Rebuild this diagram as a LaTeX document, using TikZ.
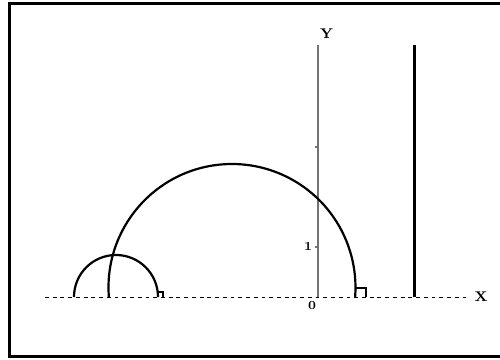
\documentclass[tikz,border=0pt]{standalone}
\usetikzlibrary{calc}
\tikzset{
  framebox/.style={draw=black, line width=2pt},
  yaxis/.style={draw=black!55, line width=0.6pt},
  xaxis/.style={draw=black, dashed, line width=0.5pt, dash pattern=on 2.2pt off 2.2pt},
  geodesic/.style={draw=black, line width=1.25pt},
  vline/.style={draw=black, line width=1.7pt},
  rightmark/.style={draw=black, line width=0.9pt},
  axislabel/.style={font=\footnotesize\bfseries, inner sep=1pt},
  ticklabel/.style={font=\scriptsize\bfseries, inner sep=1pt}
}
\begin{document}
\begin{tikzpicture}
  \clip (-6.36,-1.26) rectangle (3.64,5.94);
  % frame (runs past the right edge)
  \draw[framebox] (4.2,5.87) -- (-6.17,5.87) -- (-6.17,-1.19) -- (4.2,-1.19);
  % axes
  \coordinate (O) at (0,0);
  \coordinate (Ytop) at (0,5.04);
  \coordinate (Xleft) at (-5.46,0);
  \coordinate (Xright) at (3.04,0);
  \draw[xaxis] (Xleft) -- (Xright);
  \draw[yaxis] (O) -- (Ytop);
  \foreach \t in {1,2,3}
    \draw[yaxis] (0,\t) -- (-0.07,\t);
  \node[axislabel] (ylab) at (0.17,5.27) {Y};
  \node[axislabel] (xlab) at (3.26,0) {X};
  \node[ticklabel] (one) at (-0.2,1.02) {1};
  \node[ticklabel] (zero) at (-0.12,-0.17) {0};
  % vertical geodesic
  \coordinate (Vbot) at (1.92,0);
  \coordinate (Vtop) at (1.92,5.04);
  \draw[vline] (Vbot) -- (Vtop);
  % big arc
  \coordinate (Bc) at (-1.72,0.19);
  \draw[geodesic] ($(Bc)+(184.4:2.47)$) arc[start angle=184.4, end angle=-4.4, radius=2.47];
  % small arc
  \coordinate (Sc) at (-4.04,0);
  \draw[geodesic] ($(Sc)+(180:0.84)$) arc[start angle=180, end angle=0, radius=0.84];
  % right angle marks
  \draw[rightmark] (-3.2,0.1) -- (-3.1,0.1) -- (-3.1,0);
  \draw[rightmark] (0.75,0.18) -- (0.96,0.18) -- (0.96,0);
\end{tikzpicture}
\end{document}
